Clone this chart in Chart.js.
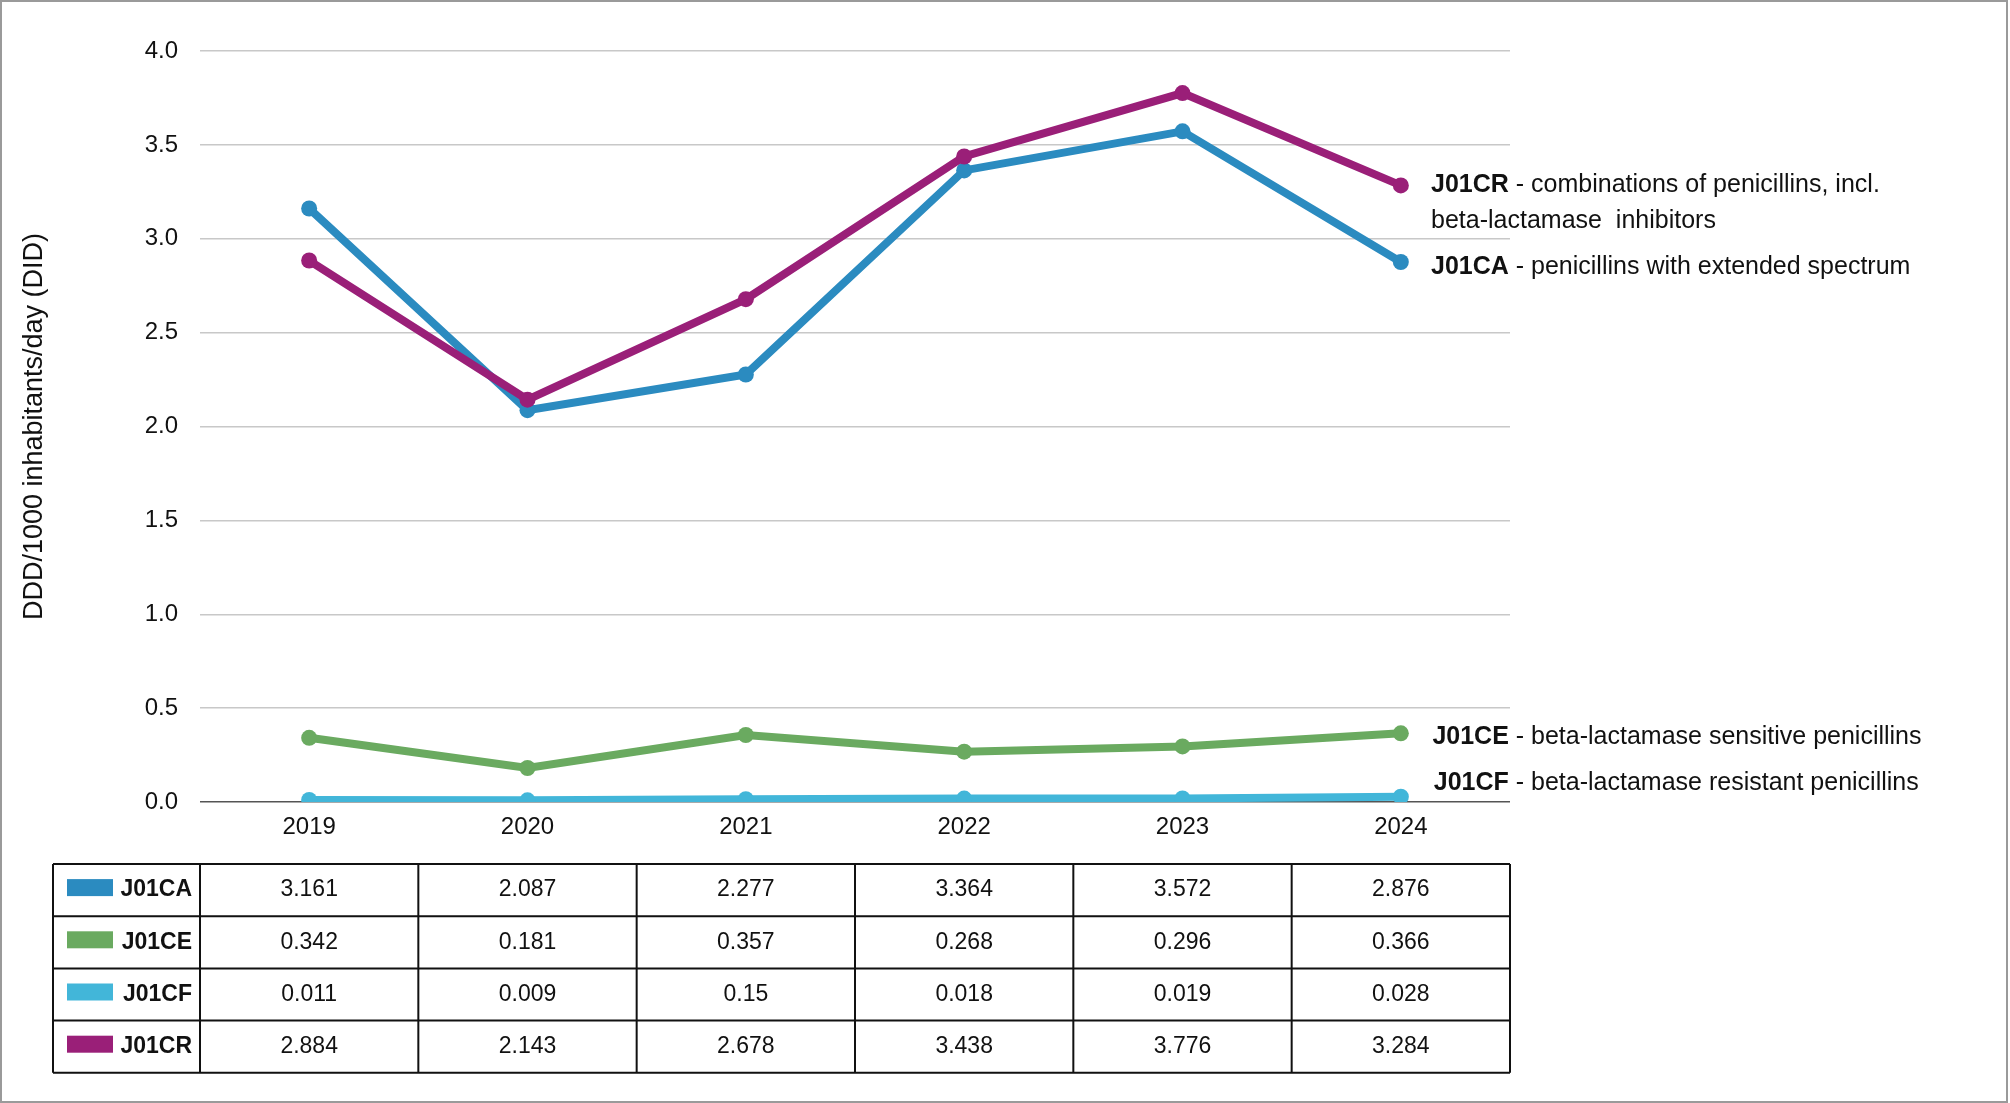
<!DOCTYPE html>
<html>
<head>
<meta charset="utf-8">
<script src="https://cdn.jsdelivr.net/npm/chart.js@4.4.0/dist/chart.umd.min.js"></script>
<style>
  html, body { margin: 0; padding: 0; background: #fff; }
  canvas { display: block; }
</style>
</head>
<body>
<canvas id="didChart" width="2010" height="1103"></canvas>
<script>
// years on the x axis
const years = ['2019', '2020', '2021', '2022', '2023', '2024'];

// DDD/1000 inhabitants/day per ATC group
const j01ca = [3.161, 2.087, 2.277, 3.364, 3.572, 2.876];
const j01ce = [0.342, 0.181, 0.357, 0.268, 0.296, 0.366];
const j01cf = [0.011, 0.009, 0.015, 0.018, 0.019, 0.028];
const j01cr = [2.884, 2.143, 2.678, 3.438, 3.776, 3.284];

// the table under the chart prints J01CF 2021 as 0.15
const j01cfPrinted = ['0.011', '0.009', '0.15', '0.018', '0.019', '0.028'];

const codes = ['J01CA', 'J01CE', 'J01CF', 'J01CR'];
const descriptions = [
  ['penicillins with extended spectrum'],
  ['beta-lactamase sensitive penicillins'],
  ['beta-lactamase resistant penicillins'],
  ['combinations of penicillins, incl.', 'beta-lactamase  inhibitors']
];

const yTicks = [0, 0.5, 1, 1.5, 2, 2.5, 3, 3.5, 4];

const colors = ['#2b8bc0', '#6aaa60', '#42b6d9', '#9a1f78'];
const FONT = '"Liberation Sans", Arial, sans-serif';

// labels to the right of the last point of each line
const endLabels = {
  id: 'endLabels',
  afterDatasetsDraw(chart) {
    const ctx = chart.ctx;
    const shift = [5, 4, -14, 0];
    ctx.save();
    ctx.fillStyle = '#111';
    ctx.textBaseline = 'middle';
    chart.data.datasets.forEach((ds, i) => {
      const meta = chart.getDatasetMeta(i);
      const pt = meta.data[meta.data.length - 1];
      const right = pt.x + 108;
      const y = pt.y + shift[i];
      ctx.font = 'bold 25px ' + FONT;
      const codeW = ctx.measureText(codes[i]).width;
      ctx.textAlign = 'right';
      ctx.fillText(codes[i], right, y);
      ctx.font = '25px ' + FONT;
      ctx.textAlign = 'left';
      ctx.fillText(' - ' + descriptions[i][0], right, y);
      for (let k = 1; k < descriptions[i].length; k++) {
        ctx.fillText(descriptions[i][k], right - codeW, y + 36 * k);
      }
    });
    ctx.restore();
  }
};

// data table under the x axis, columns follow the category scale
const dataTable = {
  id: 'dataTable',
  afterDraw(chart) {
    const ctx = chart.ctx;
    const x = chart.scales.x;
    const step = x.getPixelForValue(1) - x.getPixelForValue(0);
    const top = chart.chartArea.bottom + 62;
    const rowH = 52.2;
    const left = chart.chartArea.left - 147;
    const colLeft = x.getPixelForValue(0) - step / 2;
    const right = x.getPixelForValue(years.length - 1) + step / 2;
    const rows = [
      j01ca.map(String),
      j01ce.map(String),
      j01cfPrinted,
      j01cr.map(String)
    ];
    ctx.save();
    ctx.strokeStyle = '#111';
    ctx.lineWidth = 2;
    ctx.beginPath();
    for (let r = 0; r <= rows.length; r++) {
      ctx.moveTo(left, top + r * rowH);
      ctx.lineTo(right, top + r * rowH);
    }
    ctx.moveTo(left, top);
    ctx.lineTo(left, top + rows.length * rowH);
    for (let c = 0; c <= years.length; c++) {
      ctx.moveTo(colLeft + c * step, top);
      ctx.lineTo(colLeft + c * step, top + rows.length * rowH);
    }
    ctx.stroke();

    ctx.textBaseline = 'middle';
    rows.forEach((row, r) => {
      const cy = top + r * rowH + rowH / 2;
      ctx.fillStyle = colors[r];
      ctx.fillRect(left + 14, cy - 11, 46, 17);
      ctx.fillStyle = '#111';
      ctx.font = 'bold 23px ' + FONT;
      ctx.textAlign = 'right';
      ctx.fillText(codes[r], colLeft - 8, cy);
      ctx.font = '23px ' + FONT;
      ctx.textAlign = 'center';
      row.forEach((txt, c) => {
        ctx.fillText(txt, x.getPixelForValue(c), cy);
      });
    });

    // frame around the whole figure
    ctx.strokeStyle = '#9a9a9a';
    ctx.lineWidth = 2;
    ctx.strokeRect(1, 1, chart.width - 4, chart.height - 2);
    ctx.restore();
  }
};

const series = [j01ca, j01ce, j01cf, j01cr];

new Chart(document.getElementById('didChart'), {
  type: 'line',
  data: {
    labels: years,
    datasets: series.map((vals, i) => ({
      label: codes[i],
      data: vals,
      borderColor: colors[i],
      backgroundColor: colors[i],
      borderWidth: 8,
      pointRadius: 8,
      pointHoverRadius: 8,
      pointBorderWidth: 0,
      tension: 0,
      order: i === 3 ? 0 : 4 - i
    }))
  },
  options: {
    responsive: false,
    devicePixelRatio: 1,
    animation: false,
    layout: { padding: { left: 0, top: 51, right: 500, bottom: 241 } },
    plugins: {
      legend: { display: false },
      tooltip: { enabled: false }
    },
    scales: {
      x: {
        type: 'category',
        offset: true,
        grid: { display: false },
        border: { display: false },
        ticks: { color: '#111', font: { family: FONT, size: 24 }, padding: 3 },
        afterFit(scale) { scale.height = 60; }
      },
      y: {
        min: yTicks[0],
        max: yTicks[yTicks.length - 1],
        afterBuildTicks(scale) { scale.ticks = yTicks.map(v => ({ value: v })); },
        grid: {
          color: c => c.tick && c.tick.value === 0 ? '#555555' : '#c8c8c8',
          lineWidth: 1.5,
          drawTicks: false
        },
        border: { display: false },
        ticks: {
          color: '#111',
          font: { family: FONT, size: 24 },
          padding: 22,
          callback: v => Number(v).toFixed(1)
        },
        title: {
          display: true,
          text: 'DDD/1000 inhabitants/day (DID)',
          color: '#111',
          font: { family: FONT, size: 27 },
          padding: { top: 18, bottom: 0 }
        },
        afterFit(scale) { scale.width = 200; }
      }
    }
  },
  plugins: [endLabels, dataTable]
});
</script>
</body>
</html>
